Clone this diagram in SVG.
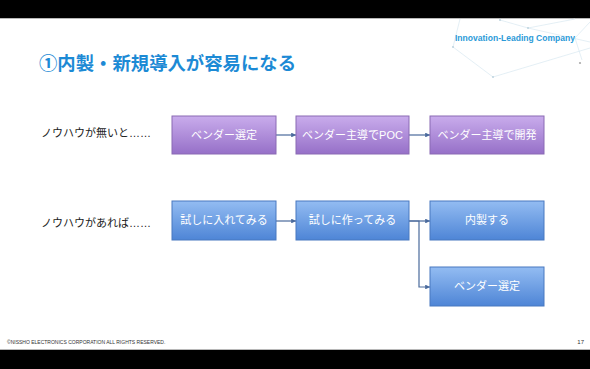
<svg xmlns="http://www.w3.org/2000/svg" width="590" height="369" viewBox="0 0 590 369">
<defs>
<linearGradient id="gp" x1="0" y1="0" x2="0" y2="1">
<stop offset="0" stop-color="#c9acec"/>
<stop offset="1" stop-color="#9670c8"/>
</linearGradient>
<linearGradient id="gb" x1="0" y1="0" x2="0" y2="1">
<stop offset="0" stop-color="#93bcf2"/>
<stop offset="1" stop-color="#4e85d6"/>
</linearGradient>
<marker id="ah" viewBox="0 0 6 6" refX="6" refY="3" markerWidth="4" markerHeight="4" orient="auto">
<path d="M0,0 L6,3 L0,6 z" fill="#4a6a9c"/>
</marker>
</defs>
<style>
.jp{font-family:"Liberation Sans","Noto Sans CJK JP",sans-serif;}
.pb{fill:url(#gp);stroke:#8a6bb4;stroke-width:1;}
.bb{fill:url(#gb);stroke:#4878c0;stroke-width:1;}
.bt{fill:#ffffff;font-size:11px;text-anchor:middle;}
.lb{fill:#222;font-size:11px;}
.cn{fill:none;stroke:#4a6a9c;stroke-width:1.2;}
.deco{stroke:#d8e8f1;stroke-width:0.7;fill:none;}
</style>
<rect x="0" y="0" width="590" height="369" fill="#ffffff"/>
<rect x="0" y="0" width="590" height="18" fill="#000"/>
<rect x="0" y="350" width="590" height="19" fill="#000"/>
<line x1="0" y1="18.5" x2="590" y2="18.5" stroke="#888" stroke-width="0.6"/>
<line x1="0" y1="349.5" x2="590" y2="349.5" stroke="#888" stroke-width="0.6"/>
<g id="decoration">
<path class="deco" d="M460,19 L453,47 L493,77 L590,48 M500,20 L528,28 L575,19 M528,28 L590,42 M575,38 L590,22 M575,38 L582,60"/>
<circle cx="500" cy="20" r="0.9" fill="#b8cfdc"/>
<circle cx="528" cy="28" r="0.9" fill="#b8cfdc"/>
<circle cx="453" cy="47" r="0.9" fill="#b8cfdc"/>
<circle cx="493" cy="77" r="0.9" fill="#b8cfdc"/>
<circle cx="580" cy="63" r="1.1" fill="#aaa"/>
</g>
<text x="455" y="41" font-family="Liberation Sans, sans-serif" font-size="8.5" font-weight="bold" fill="#2b9ad8" textLength="120" lengthAdjust="spacingAndGlyphs">Innovation-Leading Company</text>
<text x="39" y="70" class="jp" font-size="18.5" font-weight="bold" fill="#1c8ad5" textLength="257" lengthAdjust="spacingAndGlyphs">①内製・新規導入が容易になる</text>
<text x="41" y="137" class="jp lb">ノウハウが無いと……</text>
<text x="41" y="227" class="jp lb">ノウハウがあれば……</text>
<g id="connectors">
<line class="cn" x1="276" y1="135" x2="296" y2="135" marker-end="url(#ah)"/>
<line class="cn" x1="409" y1="135" x2="430" y2="135" marker-end="url(#ah)"/>
<line class="cn" x1="276" y1="221" x2="296" y2="221" marker-end="url(#ah)"/>
<line class="cn" x1="409" y1="221" x2="430" y2="221" marker-end="url(#ah)"/>
<polyline class="cn" points="409,221 419,221 419,287 430,287" marker-end="url(#ah)"/>
</g>
<g id="n1"><rect class="pb" x="172" y="116" width="104" height="38"/><text class="jp bt" x="224" y="139">ベンダー選定</text></g>
<g id="n2"><rect class="pb" x="296" y="116" width="113" height="38"/><text class="jp bt" x="352.5" y="139">ベンダー主導でPOC</text></g>
<g id="n3"><rect class="pb" x="430" y="116" width="114" height="38"/><text class="jp bt" x="487" y="139">ベンダー主導で開発</text></g>
<g id="n4"><rect class="bb" x="172" y="201" width="104" height="39"/><text class="jp bt" x="224" y="224">試しに入れてみる</text></g>
<g id="n5"><rect class="bb" x="296" y="201" width="113" height="39"/><text class="jp bt" x="352.5" y="224">試しに作ってみる</text></g>
<g id="n6"><rect class="bb" x="430" y="201" width="114" height="39"/><text class="jp bt" x="487" y="224">内製する</text></g>
<g id="n7"><rect class="bb" x="430" y="267" width="114" height="39"/><text class="jp bt" x="487" y="290">ベンダー選定</text></g>
<text x="7" y="344" font-family="Liberation Sans, sans-serif" font-size="5" fill="#333">©NISSHO ELECTRONICS CORPORATION ALL RIGHTS RESERVED.</text>
<text x="584" y="344" font-family="Liberation Sans, sans-serif" font-size="6" fill="#333" text-anchor="end">17</text>
</svg>
